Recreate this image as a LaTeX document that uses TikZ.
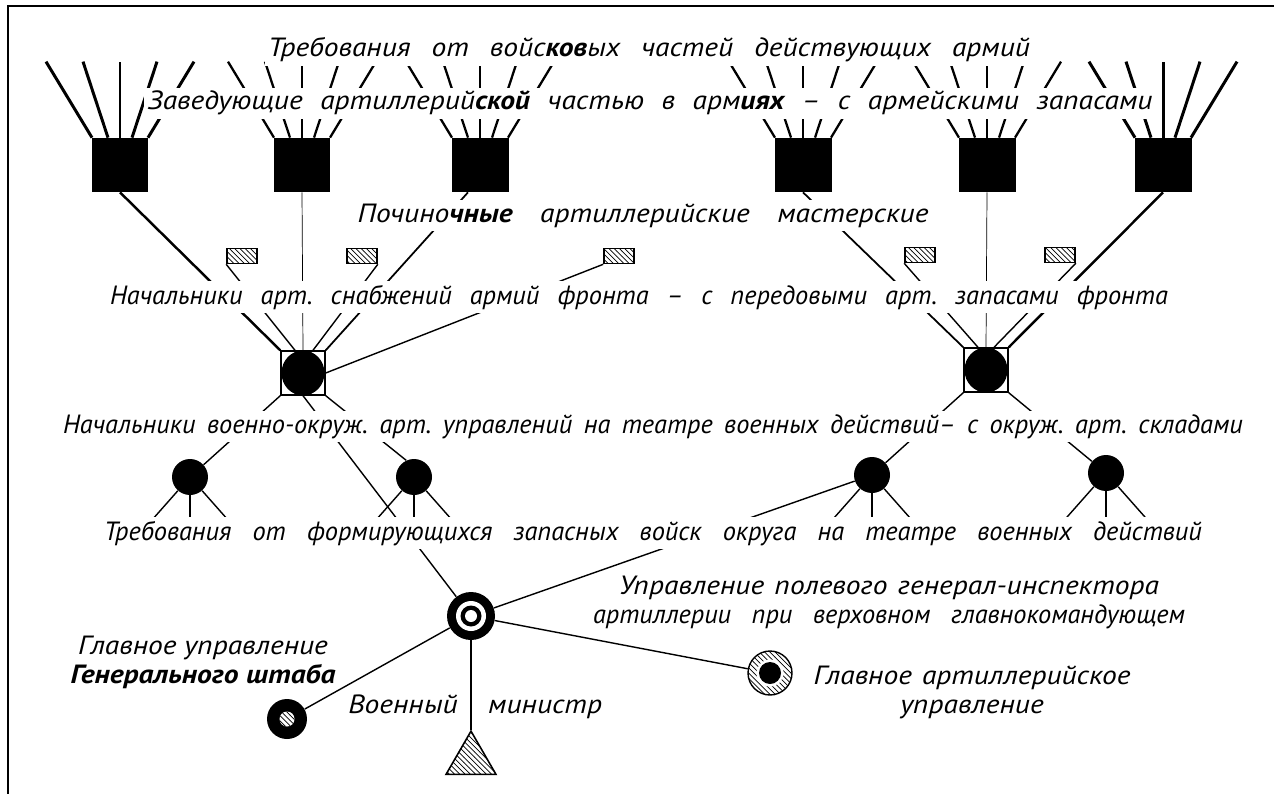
\documentclass[tikz,border=0pt]{standalone}
\usepackage{fontspec}
\setmainfont{PT Sans}[FakeStretch=1.12]
\newfontfamily\narrowfont{PT Sans}[FakeStretch=1.0]
\usetikzlibrary{positioning, patterns, shapes.geometric, calc}
\frenchspacing

% one line of text spread to a given width
\newcommand{\rowbox}[2]{\makebox[#1][s]{#2}}

\begin{document}
\begin{tikzpicture}[
    x=0.02cm, y=-0.02cm,
    font=\fontsize{15}{16.5}\selectfont\itshape,
    army/.style={
        rectangle, fill=black, inner sep=0pt,
        minimum width=1.14cm, minimum height=1.08cm
    },
    front/.style={
        rectangle, draw, line width=0.8pt, inner sep=0pt,
        minimum width=0.88cm, minimum height=0.88cm,
        path picture={\fill (path picture bounding box.center)
            ellipse [x radius=0.43cm, y radius=0.45cm];}
    },
    workshop/.style={
        rectangle, draw, line width=0.9pt, inner sep=0pt,
        minimum width=0.6cm, minimum height=0.3cm,
        pattern=north west lines
    },
    district/.style={circle, fill=black, inner sep=0pt, minimum size=0.72cm},
    inspector/.style={
        circle, fill=black, inner sep=0pt, minimum size=0.96cm,
        path picture={
            \fill[white] (path picture bounding box.center) circle (0.3cm);
            \fill[black] (path picture bounding box.center) circle (0.21cm);
            \fill[white] (path picture bounding box.center) circle (0.12cm);}
    },
    staff/.style={
        circle, fill=black, inner sep=0pt, minimum size=0.8cm,
        path picture={
            \fill[white] (path picture bounding box.center) circle (0.15cm);
            \fill[pattern=north west lines] (path picture bounding box.center) circle (0.15cm);}
    },
    gau/.style={
        circle, draw, line width=0.8pt, inner sep=0pt, minimum size=0.88cm,
        pattern=north west lines,
        path picture={
            \fill[white] (path picture bounding box.center) circle (0.27cm);
            \fill[black] (path picture bounding box.center) circle (0.22cm);}
    },
    minister/.style={
        regular polygon, regular polygon sides=3, draw, line width=0.9pt,
        inner sep=0pt, minimum size=1.155cm, pattern=north west lines
    },
    row/.style={fill=white, inner sep=2pt, anchor=base},
    note/.style={align=center, inner sep=0pt},
    link/.style={line width=0.8pt}
]
\useasboundingbox (0,0) rectangle (1274,794);

%% ─── FRAME ──────────────────────────────────────────────────────────────

\draw[line width=1pt] (8,794) -- (8,6) -- (1274,6);

%% ─── ARMY DEPOTS (top row) ──────────────────────────────────────────────

\node[army] (sq1) at (120,165) {};
\node[army] (sq2) at (302,165) {};
\node[army] (sq3) at (480,165) {};
\node[army] (sq4) at (803,165) {};
\node[army] (sq5) at (987,165) {};
\node[army] (sq6) at (1163,165) {};

%% ─── REPAIR WORKSHOPS ───────────────────────────────────────────────────

\node[workshop] (ws1) at (242,256) {};
\node[workshop] (ws2) at (362,256) {};
\node[workshop] (ws3) at (619,256) {};
\node[workshop] (ws4) at (920,255) {};
\node[workshop] (ws5) at (1060,255) {};

%% ─── FRONT SUPPLY ───────────────────────────────────────────────────────

\node[front] (fl) at (303,373) {};
\node[front] (fr) at (986,370) {};

%% ─── DISTRICTS ──────────────────────────────────────────────────────────

\node[district] (dA) at (190,477) {};
\node[district] (dB) at (414,477) {};
\node[district] (dC) at (872,475) {};
\node[district] (dD) at (1106,473) {};

%% ─── CENTRE ─────────────────────────────────────────────────────────────

\node[inspector] (gi)  at (471,616) {};
\node[staff]     (gs)  at (287,719) {};
\node[gau]       (gau) at (770,673) {};
\node[minister]  (wm)  at (471,760) {};

%% ─── FANS (demands of the troops) ───────────────────────────────────────

\foreach \s/\w in {sq1/1.7pt, sq2/1.3pt, sq3/1.3pt, sq4/1.3pt, sq5/1.3pt, sq6/1.7pt}
    \foreach \b/\t in {-28/-74, -12/-37, 0/0, 12/37, 28/74}
        \draw[line width=\w] ($(\s.north)+(\b,0)$) -- ($(\s.north)+(\t,-76)$);

%% ─── ARMY → FRONT ───────────────────────────────────────────────────────

\draw[line width=1.4pt] (sq1.south) -- (fl.north west);
\draw[thin]             (sq2.south) -- (fl.north);
\draw[line width=1pt]   ($(sq3.south)+(-12,0)$) -- (fl.north east);
\draw[link] (ws1.south west) -- ($(fl.north)+(-8,0)$);
\draw[link] (ws2.south east) -- ($(fl.north)+(10,0)$);
\draw[link] (ws3.south west) -- (fl.east);

\draw[line width=1pt]   (sq4.south) -- (fr.north west);
\draw[thin]             (sq5.south) -- (fr.north);
\draw[line width=1.4pt] (sq6.south) -- (fr.north east);
\draw[link] (ws4.south west) -- ($(fr.north)+(-8,0)$);
\draw[link] (ws5.south east) -- ($(fr.north)+(8,0)$);

%% ─── FRONT → DISTRICTS ──────────────────────────────────────────────────

\draw[link] (fl.south west) -- (dA);
\draw[link] (fl.south east) -- (dB.115);
\draw[link] (fr.south west) -- (dC);
\draw[link] (fr.south east) -- (dD);

% reserve troops of the districts
\foreach \d in {dA, dB, dC, dD}
    \foreach \dx in {-46, 0, 46}
        \draw[link] (\d) -- ($(\d)+(\dx,52)$);

%% ─── CENTRE LINKS ───────────────────────────────────────────────────────

\draw[link] (fl.south) -- (gi);
\draw[link] (gi) -- (dC);
\draw[link] (gi) -- (gs);
\draw[link] (gi) -- (wm.corner 1);
\draw[link] (gi) -- (gau);

%% ─── ROW LABELS (cut the lines) ─────────────────────────────────────────

\node[row] (t1) at (649,57) {\rowbox{15.24cm}
    {Требования от войс\textbf{ков}ых частей действующих армий}};
\node[row] (t2) at (650,110) {\rowbox{20.1cm}
    {Заведующие артиллерий\textbf{ской} частью в арм\textbf{иях} – с армейскими запасами}};
\node[row] (t3) at (643,222) {\rowbox{11.42cm}
    {Почино\textbf{чные} артиллерийские мастерские}};
\node[row] (t4) at (639,304) {\narrowfont\rowbox{21.16cm}
    {Начальники арт. снабжений армий фронта – с передовыми арт. запасами фронта}};
\node[row] (t5) at (653,433) {\narrowfont\rowbox{23.6cm}
    {Начальники военно-окруж. арт. управлений на театре военных действий– с окруж. арт. складами}};
\node[row] (t6) at (653,540) {\narrowfont\rowbox{21.96cm}
    {Требования от формирующихся запасных войск округа на театре военных действий}};

%% ─── CENTRE LABELS ──────────────────────────────────────────────────────

\node[note] (lgi)  at (889,602)
    {\rowbox{10.8cm}{Управление полевого генерал-инспектора}\\
     \narrowfont\rowbox{11.84cm}{артиллерии при верховном главнокомандующем}};
\node[note] (lgs)  at (203,662)
    {Главное управление\\\textbf{Генерального штаба}};
\node[note] (lgau) at (972,692)
    {\rowbox{6.34cm}{Главное артиллерийское}\\управление};
\node[anchor=base east] (lwm1) at (464,713) {Военный};
\node[anchor=base west] (lwm2) at (482,713) {министр};

\end{tikzpicture}
\end{document}
